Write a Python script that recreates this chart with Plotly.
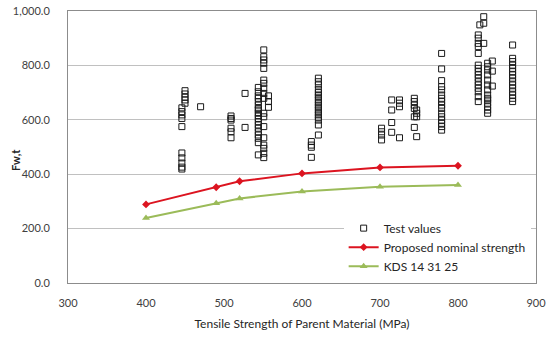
import plotly.graph_objects as go

# Test values: x positions (MPa) and the Fw,t values measured at each
col_x = [446, 450, 470, 509, 527, 544, 551, 557, 612, 621, 702, 715, 725, 744, 747,
         779, 826, 828, 833, 838, 844, 870]
col_y = [
    [478, 460, 441, 426, 419, 644, 630, 618, 605, 575],
    [707, 695, 683, 673, 661],
    [648],
    [614, 605, 599, 569, 556, 534],
    [697, 572],
    [719, 703, 688, 679, 667, 654, 642, 636, 624, 615, 605, 593, 581, 569, 556, 544, 532, 516, 471],
    [857, 832, 820, 808, 789, 746, 734, 716, 697, 679, 624, 611, 575, 534, 507, 495, 477, 461],
    [688, 667, 646],
    [520, 507, 499, 462],
    [753, 740, 728, 712, 700, 691, 683, 673, 663, 654, 646, 636, 626, 618, 609, 599, 581, 544],
    [569, 556, 544, 526],
    [673, 636, 590, 554],
    [673, 661, 648, 534],
    [679, 667, 654, 642, 611, 572],
    [636, 624, 611, 538],
    [844, 787, 744, 722, 710, 691, 679, 667, 654, 642, 624, 611, 599, 587, 575, 562],
    [912, 900, 881, 869, 844, 801, 789, 777, 765, 753, 740, 728, 716, 703, 685, 667],
    [949],
    [979, 955, 881],
    [808, 795, 783, 765, 746, 728, 710, 691, 679, 673, 661, 648, 636, 624],
    [816, 779, 724],
    [875, 826, 814, 801, 789, 777, 765, 753, 740, 728, 716, 703, 691, 679, 667],
]

test_x = [x for x, ys in zip(col_x, col_y) for _ in ys]
test_y = [y for ys in col_y for y in ys]

line_x = [400, 490, 520, 600, 700, 800]
proposed = [289, 352, 374, 403, 425, 431]
kds = [239, 293, 311, 336, 354, 360]

FONT = "Lato, 'Open Sans', sans-serif"

fig = go.Figure()
fig.add_trace(go.Scatter(
    x=test_x, y=test_y, mode="markers", name="Test values",
    marker=dict(symbol="square-open", size=6, color="#1a1a1a", line=dict(width=1)),
))
fig.add_trace(go.Scatter(
    x=line_x, y=proposed, mode="lines+markers", name="Proposed nominal strength",
    line=dict(color="#dc1420", width=2),
    marker=dict(symbol="diamond", size=6, color="#dc1420"),
))
fig.add_trace(go.Scatter(
    x=line_x, y=kds, mode="lines+markers", name="KDS 14 31 25",
    line=dict(color="#9bbb59", width=2),
    marker=dict(symbol="triangle-up", size=7, color="#9bbb59"),
))

fig.update_layout(
    width=551, height=338,
    margin=dict(l=68, r=15, t=11, b=55),
    paper_bgcolor="white", plot_bgcolor="white",
    font=dict(family=FONT, size=11, color="#404040"),
    showlegend=True,
    legend=dict(
        x=0.589, y=0.255, xanchor="left", yanchor="top",
        bgcolor="white", borderwidth=0,
        font=dict(family=FONT, size=12, color="#262626"),
        itemwidth=30, tracegroupgap=0,
    ),
    xaxis=dict(
        range=[300, 900], dtick=100, tick0=300,
        showgrid=False, zeroline=False, automargin=False,
        showline=True, linecolor="#8c8c8c", linewidth=1, mirror=True,
        ticks="", ticklabelstandoff=10,
        title=dict(text="Tensile Strength of Parent Material (MPa)", standoff=11,
                   font=dict(family=FONT, size=12, color="#262626")),
    ),
    yaxis=dict(
        range=[0, 1000], dtick=200, tick0=0,
        tickformat=",.1f", automargin=False,
        showgrid=True, gridcolor="#c0c0c0", gridwidth=1,
        zeroline=False,
        showline=True, linecolor="#8c8c8c", linewidth=1, mirror=True,
        ticks="", ticklabelstandoff=15,
    ),
    annotations=[dict(
        text="<b>Fw,t</b>", textangle=-90, showarrow=False,
        xref="paper", yref="paper", x=(15 - 68) / 468, y=(283 - 160) / 272,
        xanchor="center", yanchor="middle",
        font=dict(family=FONT, size=11, color="#262626"),
    )],
)

fig.write_html("out.html")
